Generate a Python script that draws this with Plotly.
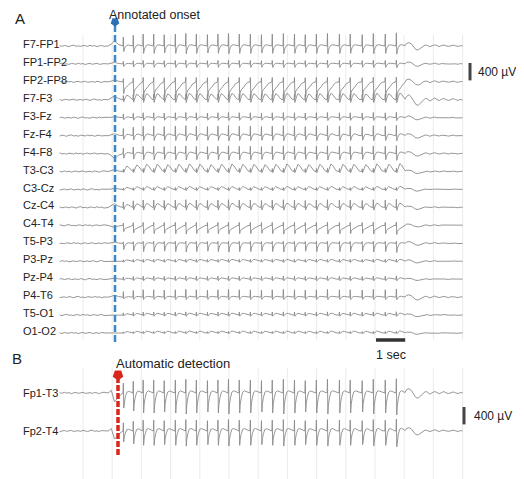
import numpy as np
import plotly.graph_objects as go

# ---------------- data ----------------
channels_a = ["F7-FP1", "FP1-FP2", "FP2-FP8", "F7-F3", "F3-Fz", "Fz-F4", "F4-F8",
              "T3-C3", "C3-Cz", "Cz-C4", "C4-T4", "T5-P3", "P3-Pz", "Pz-P4",
              "P4-T6", "T5-O1", "O1-O2"]
# per-channel amplitudes in µV: sharp upward spike, downward spike, slow wave, onset shift, post-ictal gain
spike_up_a = [275, 80, 100, 130, 115, 220, 170, 70, 45, 170, 70, 45, 45, 70, 170, 70, 35]
spike_dn_a = [170, 80, 360, 60, 60, 110, 140, 25, 25, 60, 190, 190, 25, 35, 55, 25, 12]
wave_a = [45, 25, -100, 150, 30, 55, 50, 170, 70, 100, -45, 30, 45, 35, 25, 45, 45]
onset_a = [115, 35, 45, 90, 25, 45, -115, 45, 25, 90, -45, 25, 0, 25, 45, 0, 0]
post_gain_a = [1.0, 0.6, 0.8, 1.4, 0.5, 0.6, 0.6, 0.5, 0.4, 0.5, 0.4, 0.5, 0.4, 0.3, 0.7, 0.4, 0.3]

channels_b = ["Fp1-T3", "Fp2-T4"]
spike_up_b = [300, 250]
spike_dn_b = [460, 330]
wave_b = [90, 90]
onset_b = [-205, -185]
post_gain_b = [1.3, 1.0]

# spike times (s)
spike_times = [2.37, 2.71, 3.05, 3.41, 3.77, 4.15, 4.51, 4.87, 5.25, 5.61, 5.97, 6.34, 6.72,
               7.10, 7.47, 7.85, 8.23, 8.60, 8.98, 9.36, 9.77, 10.14, 10.55, 10.93, 11.34, 11.72]
spike_gain = [0.75, 0.9, 1.0, 1.0, 0.95, 1.0, 1.05, 1.0, 0.95, 1.0, 1.05, 1.0, 1.0,
              0.95, 1.0, 1.05, 1.0, 0.95, 1.0, 1.05, 1.0, 1.0, 0.95, 1.05, 1.0, 1.1]

# spike-and-wave template (offsets in s, relative values)
tmpl_dt = [0.0, 0.012, 0.026, 0.045, 0.08, 0.13, 0.19, 0.25, 0.31]
tmpl_up = [0.0, 1.0, 0.0, 0.0, 0.0, 0.0, 0.0, 0.0, 0.0]
tmpl_dn = [0.0, 0.0, -1.0, -0.6, -0.35, -0.15, -0.05, 0.0, 0.0]
tmpl_wave = [0.0, 0.0, 0.0, 0.2, 0.6, 1.0, 0.8, 0.4, 0.1]

# onset deflection shapes (time s, relative)
onset_t = [1.86, 1.97, 2.08, 2.22]
onset_shape_a = [0.0, 0.4, 1.0, 0.3]
onset_shape_b = [0.0, -0.3, 1.0, 0.4]

# background (µV) every 0.08 s before onset, and post-ictal slow waves (µV) after the last spike
background = [7, -9, 14, 2, -14, 9, 18, -5, 2, -11, 11, 5, -7, 16, -2, 9, -14, 5, 11, -7, 2, 14, -9, 5]
postictal = [57, 80, 46, -23, -80, -92, -57, -11, 23, 11, -18, 5, 28, 7, -14, 9, 23, 0, -11, 7, 18, 0, -9, 7, 0]

grid_seconds = list(range(1, 15))

# ---------------- geometry ----------------
UV_PER_PX = 23.0
H = 479
W = 524
PAGE_OFF = 8  # browser body margin
PX_PER_S = 29.2
X0_PX = 83 - PX_PER_S  # pixel of t = 0


def t_of(px):
    return (px - X0_PX) / PX_PER_S


def y_of(px):
    return -px * UV_PER_PX


T_START, T_END = 0.2, 14.0
BG_STEP = 0.08
POST_START = 12.08

offs_a = [y_of(46 + 17.94 * i) for i in range(len(channels_a))]
offs_b = [y_of(393), y_of(431)]


def build_trace(k, up, dn, wv, ons, pg, onset_shape):
    xs, ys = [], []
    n_bg = int((onset_t[0] - T_START) / BG_STEP)
    for j in range(n_bg):
        xs.append(T_START + j * BG_STEP)
        ys.append(background[(j + 5 * k) % len(background)])
    for t, s in zip(onset_t, onset_shape):
        xs.append(t)
        ys.append(ons * s)
    for ts, g in zip(spike_times, spike_gain):
        for dt, u, d, w in zip(tmpl_dt, tmpl_up, tmpl_dn, tmpl_wave):
            xs.append(ts + dt)
            ys.append(g * (up * u + dn * d + wv * w))
    for j, v in enumerate(postictal):
        t = POST_START + j * BG_STEP
        if t > T_END:
            break
        xs.append(t)
        ys.append(pg * v + 0.3 * background[(j + 3 * k) % len(background)])
    return np.array(xs), np.array(ys)


fig = go.Figure()

gx, gy = [], []
for s in grid_seconds:
    gx += [s, s, None, s, s, None]
    gy += [y_of(35), y_of(340), None, y_of(368), y_of(479), None]
fig.add_trace(go.Scatter(x=gx, y=gy, mode="lines", line=dict(color="#ebebeb", width=1),
                         hoverinfo="skip"))

TRACE_COLOR = "#8a8a8a"
for i, name in enumerate(channels_a):
    xs, ys = build_trace(i, spike_up_a[i], spike_dn_a[i], wave_a[i], onset_a[i],
                         post_gain_a[i], onset_shape_a)
    fig.add_trace(go.Scatter(x=xs, y=ys + offs_a[i], mode="lines", name=name,
                             line=dict(color=TRACE_COLOR, width=0.9)))
for i, name in enumerate(channels_b):
    xs, ys = build_trace(i + 7, spike_up_b[i], spike_dn_b[i], wave_b[i], onset_b[i],
                         post_gain_b[i], onset_shape_b)
    fig.add_trace(go.Scatter(x=xs, y=ys + offs_b[i], mode="lines", name=name,
                             line=dict(color=TRACE_COLOR, width=0.9)))

ta, tb = t_of(115), t_of(118)
fig.add_trace(go.Scatter(x=[ta, ta], y=[y_of(25), y_of(343)], mode="lines",
                         line=dict(color="#3f86c6", width=2.5, dash="7px,3px")))
fig.add_trace(go.Scatter(x=[ta], y=[y_of(22)], mode="markers",
                         marker=dict(symbol="pentagon", angle=180, size=9, color="#2f6fb5")))
fig.add_trace(go.Scatter(x=[tb, tb], y=[y_of(377), y_of(455)], mode="lines",
                         line=dict(color="#d8261c", width=3.5, dash="6px,2px")))
fig.add_trace(go.Scatter(x=[tb], y=[y_of(375)], mode="markers",
                         marker=dict(symbol="pentagon", angle=180, size=11, color="#d8261c")))

xa = t_of(470)
fig.add_trace(go.Scatter(x=[xa, xa], y=[y_of(63), y_of(63) - 400], mode="lines",
                         line=dict(color="#444444", width=3)))
xb = t_of(464)
fig.add_trace(go.Scatter(x=[xb, xb], y=[y_of(407), y_of(407) - 400], mode="lines",
                         line=dict(color="#444444", width=3)))
fig.add_trace(go.Scatter(x=[t_of(376), t_of(376) + 1.0], y=[y_of(340), y_of(340)], mode="lines",
                         line=dict(color="#333333", width=3.5)))

FONT = "Arial, Liberation Sans, sans-serif"
FW, FH = W - PAGE_OFF, H - PAGE_OFF


def px_x(px):
    return (px - PAGE_OFF) / FW


def px_y(py):
    return 1 - (py - PAGE_OFF) / FH


ann = []
for i, name in enumerate(channels_a):
    ann.append(dict(x=px_x(21), xref="paper", y=offs_a[i], yref="y", text=name, showarrow=False,
                    xanchor="left", yanchor="middle", yshift=2,
                    font=dict(family=FONT, size=11, color="#222")))
for i, name in enumerate(channels_b):
    ann.append(dict(x=px_x(21), xref="paper", y=offs_b[i], yref="y", text=name, showarrow=False,
                    xanchor="left", yanchor="middle",
                    font=dict(family=FONT, size=11, color="#222")))


def paper_text(txt, px, py, size, anchor="left"):
    return dict(x=px_x(px), y=px_y(py), xref="paper", yref="paper", text=txt, showarrow=False,
                xanchor=anchor, yanchor="middle", font=dict(family=FONT, size=size, color="#222"))


ann += [
    paper_text("A", 13, 19, 15),
    paper_text("B", 10, 358, 15),
    paper_text("Annotated onset", 107, 15, 12.5),
    paper_text("Automatic detection", 114, 363, 13),
    paper_text("400 µV", 476, 72, 12),
    paper_text("400 µV", 472, 416, 12),
    paper_text("1 sec", 391, 355, 12.5, anchor="center"),
]

fig.update_layout(
    width=FW, height=FH, margin=dict(l=0, r=0, t=0, b=0),
    paper_bgcolor="white", plot_bgcolor="white", showlegend=False,
    xaxis=dict(range=[t_of(PAGE_OFF), t_of(W)], visible=False, fixedrange=True),
    yaxis=dict(range=[y_of(H), y_of(PAGE_OFF)], visible=False, fixedrange=True),
    annotations=ann,
)

fig.write_html("out.html")
